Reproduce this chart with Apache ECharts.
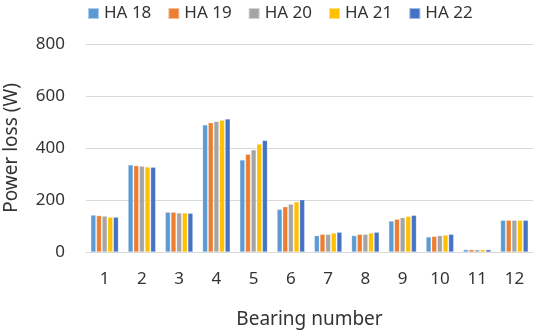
<!DOCTYPE html>
<html><head><meta charset="utf-8">
<script src="https://cdn.jsdelivr.net/npm/echarts@6/dist/echarts.min.js"></script>
<style>html,body{margin:0;padding:0;background:#fff}#c{width:535px;height:332px}</style>
</head><body><div id="c"></div>
<script>
const categories = ['1','2','3','4','5','6','7','8','9','10','11','12'];
const seriesNames = ['HA 18','HA 19','HA 20','HA 21','HA 22'];
const ha18 = [142, 335, 153, 489, 354, 164, 63, 63, 119, 58, 9, 122];
const ha19 = [140, 332, 153, 497, 376, 174, 68, 68, 126, 60, 9, 122];
const ha20 = [138, 330, 150, 502, 393, 184, 68, 68, 132, 63, 9, 122];
const ha21 = [134, 327, 150, 507, 415, 193, 73, 73, 137, 65, 9, 122];
const ha22 = [134, 326, 149, 512, 429, 201, 76, 76, 141, 68, 9, 122];
const colors = ['#5B9BD5','#ED7D31','#A5A5A5','#FFC000','#4472C4'];
const yTicks = [0, 200, 400, 600, 800];
const values = [ha18, ha19, ha20, ha21, ha22];
const font = '"Noto Sans", "Open Sans", sans-serif';
const chart = echarts.init(document.getElementById('c'));
chart.setOption({
  animation: false,
  textStyle: {fontFamily: font},
  legend: {
    top: 0, left: 82, itemWidth: 11, itemHeight: 11, itemGap: 16,
    icon: 'rect',
    textStyle: {fontSize: 17, color: '#333333', fontFamily: font, width: 46},
    data: seriesNames
  },
  grid: {left: 86, right: 2, top: 44, bottom: 80, containLabel: false, outerBoundsMode: 'none'},
  xAxis: {
    type: 'category', data: categories,
    name: 'Bearing number', nameLocation: 'middle', nameGap: 58,
    nameTextStyle: {fontSize: 19, color: '#333333', fontFamily: font},
    axisLine: {lineStyle: {color: '#D9D9D9'}},
    axisTick: {show: false},
    axisLabel: {fontSize: 17, color: '#333333', margin: 19, fontFamily: font}
  },
  yAxis: {
    type: 'value', min: yTicks[0], max: yTicks[yTicks.length-1], interval: 200,
    name: 'Power loss (W)', nameLocation: 'middle', nameGap: 65,
    nameTextStyle: {fontSize: 19, color: '#333333', fontFamily: font},
    axisLine: {show: false}, axisTick: {show: false},
    splitLine: {lineStyle: {color: '#D9D9D9'}},
    axisLabel: {fontSize: 17, color: '#333333', margin: 21, fontFamily: font}
  },
  series: seriesNames.map((n, i) => ({
    name: n, type: 'bar', data: values[i],
    barGap: '12%', barCategoryGap: '26%',
    itemStyle: {color: colors[i], borderColor: 'rgba(255,255,255,0.5)', borderWidth: 0.5}
  }))
});
</script></body></html>
